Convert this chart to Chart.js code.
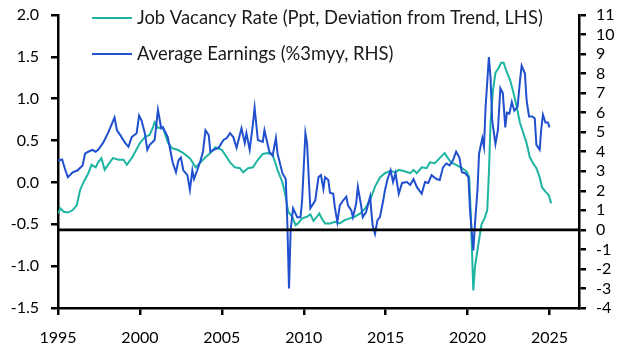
<!DOCTYPE html>
<html>
<head>
<meta charset="utf-8">
<script src="https://cdn.jsdelivr.net/npm/chart.js@4.4.1/dist/chart.umd.min.js"></script>
<style>
html, body { margin: 0; padding: 0; background: #fff; }
#wrap { width: 627px; height: 353px; }
</style>
</head>
<body>
<div id="wrap"><canvas id="chart" width="627" height="353"></canvas></div>
<script>
// Job vacancy rate, ppt deviation from trend (LHS)
const vacancyDates = [
  1995.0, 1995.15, 1995.35, 1995.6, 1995.9, 1996.15, 1996.35, 1996.55, 1996.85, 1997.05,
  1997.3, 1997.45, 1997.65, 1997.85, 1998.05, 1998.35, 1998.7, 1999.0, 1999.2, 1999.5,
  1999.7, 2000.0, 2000.3, 2000.6, 2000.8, 2000.9, 2001.1, 2001.4, 2001.7, 2001.95,
  2002.3, 2002.65, 2003.05, 2003.4, 2003.7, 2004.0, 2004.3, 2004.6, 2005.0, 2005.3,
  2005.5, 2005.8, 2006.1, 2006.3, 2006.6, 2006.9, 2007.2, 2007.5, 2007.8, 2008.1,
  2008.4, 2008.7, 2008.9, 2009.05, 2009.3, 2009.5, 2009.65, 2009.9, 2010.2, 2010.4,
  2010.6, 2010.8, 2010.95, 2011.1, 2011.3, 2011.6, 2011.9, 2012.2, 2012.5, 2012.8,
  2013.1, 2013.45, 2013.75, 2014.05, 2014.35, 2014.65, 2014.95, 2015.3, 2015.6, 2015.8,
  2016.2, 2016.5, 2016.7, 2016.9, 2017.2, 2017.5, 2017.7, 2018.0, 2018.3, 2018.6,
  2018.8, 2019.0, 2019.3, 2019.65, 2019.95, 2020.1, 2020.2, 2020.35, 2020.45, 2020.65,
  2020.85, 2021.05, 2021.2, 2021.3, 2021.4, 2021.55, 2021.7, 2021.9, 2022.05, 2022.2,
  2022.35, 2022.6, 2022.8, 2023.0, 2023.2, 2023.4, 2023.6, 2023.8, 2024.0, 2024.2,
  2024.4, 2024.55, 2024.75, 2024.95, 2025.1
];
const vacancyValues = [
  -0.37, -0.31, -0.35, -0.36, -0.33, -0.27, -0.09, 0.00, 0.11, 0.21,
  0.18, 0.24, 0.29, 0.15, 0.21, 0.29, 0.27, 0.27, 0.21, 0.29,
  0.36, 0.47, 0.54, 0.57, 0.66, 0.72, 0.65, 0.66, 0.48, 0.41,
  0.39, 0.35, 0.29, 0.18, 0.24, 0.30, 0.35, 0.42, 0.39, 0.30,
  0.24, 0.18, 0.17, 0.12, 0.17, 0.18, 0.27, 0.34, 0.35, 0.33,
  0.15, 0.00, -0.17, -0.35, -0.41, -0.51, -0.49, -0.43, -0.41, -0.38,
  -0.46, -0.41, -0.37, -0.43, -0.49, -0.49, -0.47, -0.49, -0.45, -0.43,
  -0.41, -0.37, -0.31, -0.21, -0.05, 0.06, 0.11, 0.14, 0.12, 0.15,
  0.13, 0.11, 0.15, 0.11, 0.18, 0.17, 0.24, 0.23, 0.29, 0.35,
  0.29, 0.24, 0.21, 0.17, 0.13, 0.06, -0.41, -1.29, -1.01, -0.75,
  -0.50, -0.42, -0.33, 0.11, 0.71, 1.10, 1.31, 1.37, 1.43, 1.43,
  1.34, 1.22, 1.07, 0.90, 0.71, 0.59, 0.47, 0.30, 0.23, 0.17,
  0.06, -0.06, -0.11, -0.15, -0.25
];

// Average earnings, %3m y/y (RHS)
const earningsDates = [
  1995.0, 1995.25, 1995.45, 1995.6, 1995.9, 1996.2, 1996.5, 1996.65, 1996.85, 1997.1,
  1997.3, 1997.45, 1997.75, 1998.05, 1998.3, 1998.45, 1998.6, 1998.8, 1999.1, 1999.3,
  1999.5, 1999.8, 1999.95, 2000.1, 2000.3, 2000.45, 2000.6, 2000.9, 2001.1, 2001.3,
  2001.4, 2001.7, 2001.85, 2002.0, 2002.2, 2002.35, 2002.5, 2002.65, 2002.9, 2003.05,
  2003.2, 2003.3, 2003.5, 2003.7, 2003.85, 2004.0, 2004.2, 2004.3, 2004.5, 2004.8,
  2005.1, 2005.3, 2005.5, 2005.7, 2005.9, 2006.2, 2006.4, 2006.5, 2006.7, 2006.9,
  2007.0, 2007.2, 2007.5, 2007.6, 2007.9, 2008.1, 2008.3, 2008.4, 2008.7, 2008.9,
  2009.0, 2009.1, 2009.2, 2009.35, 2009.6, 2009.8, 2009.9, 2010.1, 2010.2, 2010.4,
  2010.7, 2010.9, 2011.05, 2011.2, 2011.3, 2011.5, 2011.6, 2011.8, 2011.9, 2012.05,
  2012.2, 2012.4, 2012.6, 2012.7, 2012.9, 2013.0, 2013.2, 2013.3, 2013.5, 2013.6,
  2013.8, 2014.05, 2014.2, 2014.35, 2014.5, 2014.65, 2014.85, 2014.95, 2015.1, 2015.3,
  2015.45, 2015.6, 2015.8, 2016.0, 2016.3, 2016.5, 2016.7, 2016.9, 2017.2, 2017.4,
  2017.6, 2017.8, 2018.1, 2018.3, 2018.5, 2018.7, 2018.9, 2019.1, 2019.3, 2019.5,
  2019.65, 2019.85, 2020.05, 2020.15, 2020.35, 2020.45, 2020.6, 2020.7, 2020.9, 2021.0,
  2021.1, 2021.3, 2021.4, 2021.5, 2021.7, 2021.85, 2022.0, 2022.15, 2022.3, 2022.4,
  2022.55, 2022.7, 2022.85, 2023.05, 2023.2, 2023.3, 2023.5, 2023.6, 2023.75, 2023.95,
  2024.1, 2024.2, 2024.4, 2024.5, 2024.6, 2024.75, 2024.9, 2025.0
];
const earningsValues = [
  3.55, 3.6, 3.05, 2.7, 2.95, 3.05, 3.3, 3.9, 4.0, 4.1,
  4.0, 4.1, 4.45, 4.95, 5.45, 5.75, 5.1, 4.85, 4.45, 4.25,
  4.75, 4.95, 5.85, 5.6, 4.95, 4.1, 4.35, 4.6, 6.15, 5.2,
  5.25, 4.75, 4.1, 3.45, 2.95, 3.55, 3.7, 3.05, 2.8, 2.05,
  3.05, 2.6, 3.05, 3.55, 4.0, 5.1, 4.85, 4.0, 4.1, 4.2,
  4.6, 4.7, 4.95, 4.75, 4.2, 5.2, 4.45, 4.95, 4.1, 5.45,
  6.25, 4.6, 4.5, 5.1, 4.0, 3.8, 4.7, 3.9, 2.9, 2.6,
  0.3, -3.0, 0.0, 1.1, 0.65, 0.65, 1.5, 4.95, 4.45, 1.1,
  1.5, 2.7, 2.8, 2.1, 2.7, 2.55, 1.9, 1.85, 1.15, 0.4,
  1.25, 1.5, 1.7, 1.25, 1.0, 0.65, 1.35, 2.2, 1.25, 0.65,
  0.9, 1.7, 0.25, -0.2, 0.5, 0.65, 1.5, 2.0, 2.55, 3.05,
  2.45, 2.9, 1.85, 2.4, 2.45, 2.3, 2.6, 2.2, 1.85, 2.45,
  2.4, 2.8, 2.6, 2.55, 3.2, 3.4, 3.3, 3.55, 4.0, 3.7,
  2.95, 2.9, 2.7, 1.0, -1.05, 0.3, 2.0, 3.9, 4.7, 4.25,
  6.3, 8.85, 7.8, 5.6, 4.4, 5.1, 7.25, 7.0, 5.25, 6.0,
  5.95, 6.55, 6.1, 6.3, 7.65, 8.4, 8.0, 6.65, 5.8, 5.8,
  5.7, 4.35, 4.1, 5.2, 5.9, 5.5, 5.5, 5.25
];

const xTickValues = [1995, 2000, 2005, 2010, 2015, 2020, 2025];
const leftTickValues = [-1.5, -1.0, -0.5, 0.0, 0.5, 1.0, 1.5, 2.0];
const rightTickValues = [-4, -3, -2, -1, 0, 1, 2, 3, 4, 5, 6, 7, 8, 9, 10, 11];

const tealColor = '#1db5a2';
const blueColor = '#2150cf';
const tickFont = { family: 'Lato', size: 16 };

function toPoints(dates, values) {
    return dates.map((d, i) => ({ x: d, y: values[i] }));
}

// stop the axes from reserving extra room for half labels
function noEdgePadding(s) {
    s.paddingTop = 0;
    s.paddingBottom = 0;
}

// legend drawn inside the plot, top left
const insideLegend = {
    id: 'insideLegend',
    afterDraw(chart) {
        const ctx = chart.ctx;
        const rows = [chart.data.datasets[1], chart.data.datasets[0]];
        ctx.save();
        ctx.font = '18.4px Lato';
        ctx.textBaseline = 'middle';
        ctx.fillStyle = '#1a1a1a';
        rows.forEach((ds, i) => {
            const y = 18 + i * 36;
            ctx.strokeStyle = ds.borderColor;
            ctx.lineWidth = 2;
            ctx.beginPath();
            ctx.moveTo(92, y);
            ctx.lineTo(132, y);
            ctx.stroke();
            ctx.fillText(ds.label, 137, y);
        });
        ctx.restore();
    }
};

// black line at zero of the right axis
const zeroLine = {
    id: 'zeroLine',
    afterDatasetsDraw(chart) {
        const { ctx, chartArea, scales } = chart;
        const y = scales.y1.getPixelForValue(0);
        ctx.save();
        ctx.strokeStyle = '#000';
        ctx.lineWidth = 2.8;
        ctx.beginPath();
        ctx.moveTo(chartArea.left, y);
        ctx.lineTo(chartArea.right, y);
        ctx.stroke();
        ctx.restore();
    }
};

const ctx = document.getElementById('chart').getContext('2d');
new Chart(ctx, {
    type: 'line',
    data: {
        datasets: [{
            label: 'Average Earnings (%3myy, RHS)',
            data: toPoints(earningsDates, earningsValues),
            yAxisID: 'y1',
            borderColor: blueColor,
            borderWidth: 2,
            pointRadius: 0,
            tension: 0,
            order: 1
        }, {
            label: 'Job Vacancy Rate (Ppt, Deviation from Trend, LHS)',
            data: toPoints(vacancyDates, vacancyValues),
            yAxisID: 'y',
            borderColor: tealColor,
            borderWidth: 2,
            pointRadius: 0,
            tension: 0,
            order: 2
        }]
    },
    options: {
        responsive: false,
        animation: false,
        devicePixelRatio: 1,
        layout: { padding: { top: 15, left: 0, right: 0, bottom: 0 } },
        plugins: {
            legend: { display: false },
            tooltip: { enabled: false }
        },
        scales: {
            x: {
                type: 'linear',
                min: 1995,
                max: 2026.8,
                afterBuildTicks: s => { s.ticks = xTickValues.map(v => ({ value: v })); },
                afterFit: s => { s.height = 45; s.paddingLeft = 0; s.paddingRight = 0; },
                ticks: { font: tickFont, color: '#000', padding: 13, maxRotation: 0, autoSkip: false, callback: v => String(v) },
                grid: { drawOnChartArea: false, drawTicks: true, tickLength: 7, color: '#000', lineWidth: 2.5 },
                border: { display: true, color: '#000', width: 2.5 }
            },
            y: {
                position: 'left',
                min: -1.5,
                max: 2.0,
                afterBuildTicks: s => { s.ticks = leftTickValues.map(v => ({ value: v })); },
                afterFit: s => { s.width = 58; noEdgePadding(s); },
                ticks: { font: tickFont, color: '#000', padding: 12, autoSkip: false, callback: v => v.toFixed(1) },
                grid: { drawOnChartArea: false, drawTicks: true, tickLength: 7, color: '#000', lineWidth: 2.5 },
                border: { display: true, color: '#000', width: 2.5 }
            },
            y1: {
                position: 'right',
                min: -4,
                max: 11,
                afterBuildTicks: s => { s.ticks = rightTickValues.map(v => ({ value: v })); },
                afterFit: s => { s.width = 48; noEdgePadding(s); },
                ticks: { font: tickFont, color: '#000', padding: 10, autoSkip: false, callback: v => String(v) },
                grid: { drawOnChartArea: false, drawTicks: true, tickLength: 7, color: '#000', lineWidth: 2.5 },
                border: { display: true, color: '#000', width: 2.5 }
            }
        }
    },
    plugins: [zeroLine, insideLegend]
});
</script>
</body>
</html>
